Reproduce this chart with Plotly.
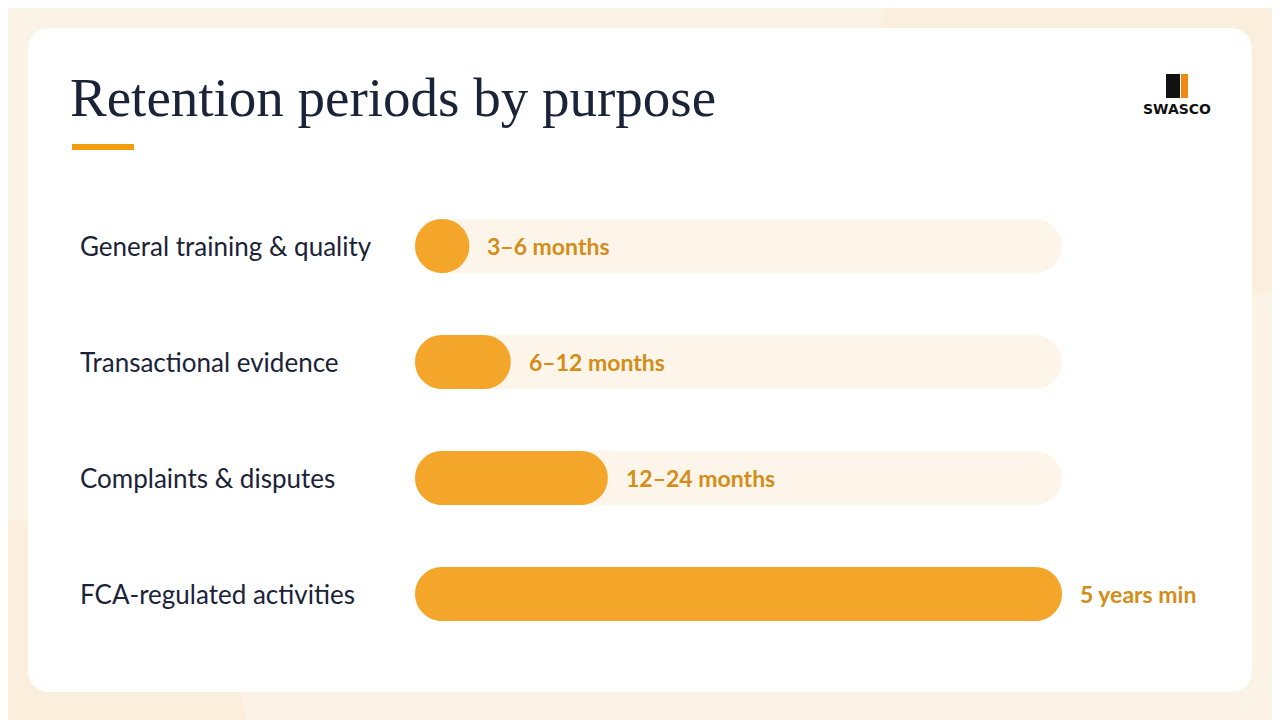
import plotly.graph_objects as go

categories = ["General training & quality", "Transactional evidence", "Complaints & disputes", "FCA-regulated activities"]
values = [8.4, 14.8, 29.8, 100]
value_labels = ["3–6 months", "6–12 months", "12–24 months", "5 years min"]
track_max = 100

W, H = 1280, 720
OFF = 8  # page body margin
L, R, T, B = 415 - OFF, 1280 - 1062 + OFF, 188 - OFF, 720 - 652 + OFF
pw = W - L - R
ph = H - T - B
n = len(categories)
BARH = 0.466  # in row units

def PX(x): return (x - OFF - L) / pw
def PY(y): return (H - B - (y - OFF)) / ph

rx = 27 / pw * track_max  # cap radius in x data units
ry = BARH / 2
K = 0.5523

def capsule(x0, x1, yc):
    a, b = x0 + rx, x1 - rx
    t, btm = yc - ry, yc + ry
    return (f"M {a},{t} L {b},{t} C {b+K*rx},{t} {x1},{yc-K*ry} {x1},{yc} "
            f"C {x1},{yc+K*ry} {b+K*rx},{btm} {b},{btm} L {a},{btm} "
            f"C {a-K*rx},{btm} {x0},{yc+K*ry} {x0},{yc} C {x0},{yc-K*ry} {a-K*rx},{t} {a},{t} Z")

fig = go.Figure()
fig.add_scatter(x=[0, track_max], y=[0, n - 1], mode="markers", marker=dict(opacity=0), hoverinfo="skip")

shapes = [
    dict(type="circle", xref="paper", yref="paper", x0=PX(-250), x1=PX(250), y0=PY(1000), y1=PY(520),
         fillcolor="#FAEBD7", line=dict(width=0), layer="below", opacity=0.6),
    dict(type="circle", xref="paper", yref="paper", x0=PX(880), x1=PX(1500), y0=PY(300), y1=PY(-200),
         fillcolor="#FAEBD7", line=dict(width=0), layer="below", opacity=0.6),
]
r = 24
x0, x1, y0, y1 = 28, 1252, 28, 692
def P(x, y): return f"{PX(x)},{PY(y)}"
card = (f"M {P(x0+r,y0)} L {P(x1-r,y0)} Q {P(x1,y0)} {P(x1,y0+r)} L {P(x1,y1-r)} Q {P(x1,y1)} {P(x1-r,y1)} "
        f"L {P(x0+r,y1)} Q {P(x0,y1)} {P(x0,y1-r)} L {P(x0,y0+r)} Q {P(x0,y0)} {P(x0+r,y0)} Z")
shapes.append(dict(type="path", xref="paper", yref="paper", path=card, fillcolor="#FFFFFF", line=dict(width=0), layer="below"))
shapes.append(dict(type="line", xref="paper", yref="paper", x0=PX(72), x1=PX(134), y0=PY(147), y1=PY(147),
                   line=dict(color="#F29E0C", width=6)))
shapes.append(dict(type="rect", xref="paper", yref="paper", x0=PX(1166), x1=PX(1180), y0=PY(98), y1=PY(74),
                   fillcolor="#111111", line=dict(width=0)))
shapes.append(dict(type="rect", xref="paper", yref="paper", x0=PX(1181), x1=PX(1188), y0=PY(98), y1=PY(74),
                   fillcolor="#F08A12", line=dict(width=0)))

ann = []
for i, (c, v, lab) in enumerate(zip(categories, values, value_labels)):
    shapes.append(dict(type="path", xref="x", yref="y", path=capsule(0, track_max, i),
                       fillcolor="#FDF5E9", line=dict(width=0)))
    shapes.append(dict(type="path", xref="x", yref="y", path=capsule(0, v, i),
                       fillcolor="#F4A62A", line=dict(width=0)))
    ann.append(dict(x=PX(78), xref="paper", y=i, yref="y", text=c, showarrow=False,
                    xanchor="left", font=dict(family="Lato", size=26, color="#1B2338")))
    ann.append(dict(x=v, xref="x", y=i, yref="y", text="<b>" + lab + "</b>", showarrow=False,
                    xanchor="left", xshift=16, font=dict(family="Lato", size=23, color="#D38D18")))
ann.append(dict(x=PX(68), xref="paper", y=PY(97), yref="paper", text="Retention periods by purpose",
                showarrow=False, xanchor="left", yanchor="middle",
                font=dict(family="Liberation Serif", size=55, color="#1B2338")))
ann.append(dict(x=PX(1177), xref="paper", y=PY(109), yref="paper", text="<b>SWASCO</b>",
                showarrow=False, xanchor="center", yanchor="middle",
                font=dict(family="DejaVu Sans", size=14, color="#111111")))

fig.update_layout(
    width=W, height=H, showlegend=False,
    margin=dict(l=L, r=R, t=T, b=B),
    paper_bgcolor="#FCF3E7", plot_bgcolor="rgba(0,0,0,0)",
    xaxis=dict(range=[0, track_max], visible=False, fixedrange=True),
    yaxis=dict(range=[n - 0.5, -0.5], visible=False, fixedrange=True),
    annotations=ann, shapes=shapes,
)
fig.write_html("out.html", config={"displayModeBar": False})
